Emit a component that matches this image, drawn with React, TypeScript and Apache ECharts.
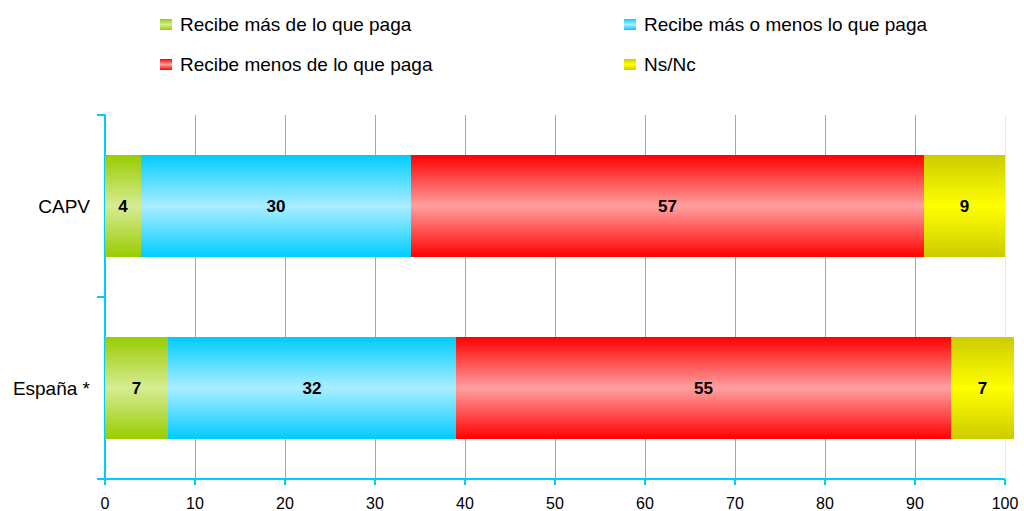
import React, { useEffect, useRef } from "react";
import * as echarts from "echarts";

const categories = ["CAPV", "España *"];
const seriesNames = [
  "Recibe más de lo que paga",
  "Recibe más o menos lo que paga",
  "Recibe menos de lo que paga",
  "Ns/Nc",
];
const recibeMas = [4, 7];
const recibeIgual = [30, 32];
const recibeMenos = [57, 55];
const nsNc = [9, 7];
const seriesValues = [recibeMas, recibeIgual, recibeMenos, nsNc];

const edgeColors = ["#99cc00", "#00ccff", "#ff0000", "#cccc00"];
const midColors = ["#d6ec94", "#aaeeff", "#ffa0a0", "#ffff00"];

const FONT = "'Liberation Sans', Arial, sans-serif";

function grad(i: number) {
  return new echarts.graphic.LinearGradient(0, 0, 0, 1, [
    { offset: 0, color: edgeColors[i] },
    { offset: 0.5, color: midColors[i] },
    { offset: 1, color: edgeColors[i] },
  ]);
}

export default function App() {
  const ref = useRef<HTMLDivElement>(null);
  useEffect(() => {
    if (!ref.current) return;
    const chart = echarts.init(ref.current, null, { renderer: "svg" });
    const legendPos = [
      { left: 160, top: 15 },
      { left: 624, top: 15 },
      { left: 160, top: 55 },
      { left: 624, top: 55 },
    ];
    chart.setOption({
      animation: false,
      backgroundColor: "#ffffff",
      textStyle: { fontFamily: FONT },
      legend: seriesNames.map((n, i) => ({
        data: [n],
        left: legendPos[i].left,
        top: legendPos[i].top,
        padding: 0,
        icon: "rect",
        itemWidth: 12,
        itemHeight: 11,
        selectedMode: false,
        textStyle: {
          fontSize: 19,
          color: "#000",
          fontFamily: FONT,
          padding: [0, 0, 0, 3],
        },
      })),
      grid: {
        left: 105,
        right: 19,
        top: 115,
        bottom: 32,
        containLabel: false,
        outerBoundsMode: "none",
      },
      xAxis: {
        type: "value",
        min: 0,
        max: 100,
        interval: 10,
        axisLine: { show: true, lineStyle: { color: "#00ccff", width: 2 } },
        axisTick: { show: true, length: 6, lineStyle: { color: "#00ccff", width: 2 } },
        axisLabel: { fontSize: 16, color: "#000", margin: 16, fontFamily: FONT },
        splitLine: {
          show: true,
          showMaxLine: false,
          lineStyle: { color: "#ff9900", width: 1 },
        },
      },
      yAxis: {
        type: "category",
        data: categories,
        inverse: true,
        axisLine: { show: true, lineStyle: { color: "#00ccff", width: 2 } },
        axisTick: { show: true, length: 8, lineStyle: { color: "#00ccff", width: 2 } },
        axisLabel: { fontSize: 19, color: "#000", margin: 15, fontFamily: FONT },
        splitLine: { show: false },
      },
      series: seriesNames.map((n, i) => ({
        name: n,
        type: "bar",
        stack: "total",
        barWidth: "56%",
        clip: false,
        data: seriesValues[i],
        itemStyle: { color: grad(i) },
        z: 3,
        label: {
          show: true,
          position: "inside",
          color: "#000",
          fontWeight: "bold",
          fontSize: 17,
          fontFamily: FONT,
        },
        markLine:
          i === 0
            ? {
                silent: true,
                symbol: "none",
                label: { show: false },
                z: 1,
                lineStyle: { color: "#fde3c6", width: 1, type: "solid" },
                data: [{ xAxis: 100 }],
              }
            : undefined,
      })),
    });
    return () => chart.dispose();
  }, []);
  return (
    <div
      ref={ref}
      style={{ position: "fixed", left: 0, top: 0, width: 1024, height: 511 }}
    />
  );
}
